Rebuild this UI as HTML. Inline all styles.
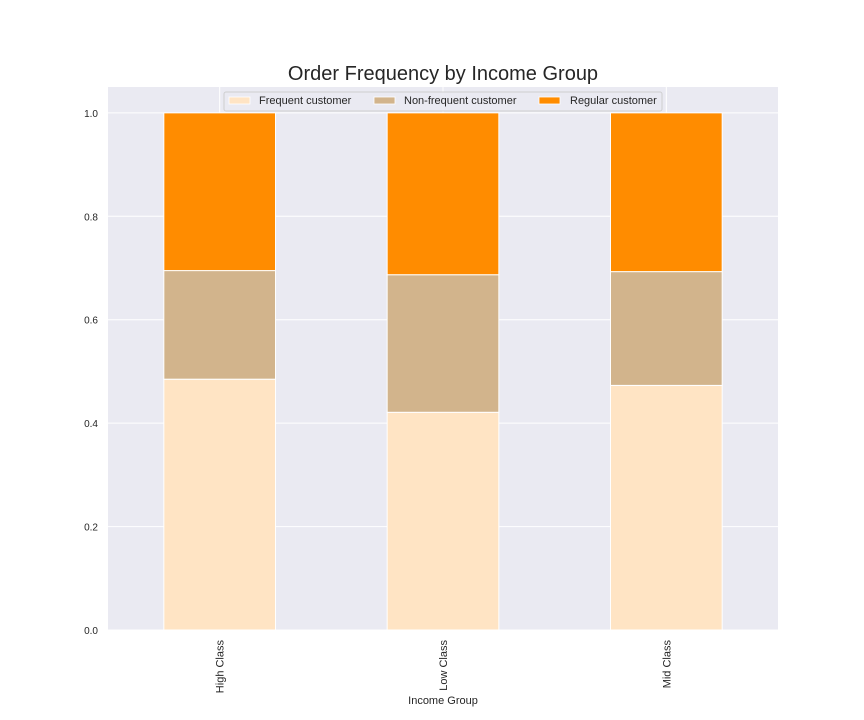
<!DOCTYPE html>
<html><head><meta charset="utf-8"><style>
body{margin:0;background:#fff;}
svg{display:block;font-family:"Liberation Sans",sans-serif;}
</style></head><body>
<svg id="chart" width="864" height="720" xmlns="http://www.w3.org/2000/svg">
<rect x="108" y="87" width="670" height="543" fill="#eaeaf2"/>
<g id="grid"></g>
<g id="bars"></g>
<g id="ticks"></g>
<text x="443" y="80" text-anchor="middle" font-size="20" fill="#262626">Order Frequency by Income Group</text>
<text x="443" y="704" text-anchor="middle" font-size="11" fill="#262626">Income Group</text>
<g>
<rect x="224" y="92" width="438" height="19" fill="#eaeaf2" stroke="#cccccc" stroke-width="1" rx="2" opacity="0.9"/>
<rect x="229" y="97" width="21" height="7" fill="#ffe4c4" stroke="#fff" stroke-width="0.8"/>
<text x="259" y="104" font-size="11" fill="#262626">Frequent customer</text>
<rect x="374" y="97" width="21" height="7" fill="#d2b48c" stroke="#fff" stroke-width="0.8"/>
<text x="404" y="104" font-size="11" fill="#262626">Non-frequent customer</text>
<rect x="539" y="97" width="21" height="7" fill="#ff8c00" stroke="#fff" stroke-width="0.8"/>
<text x="570" y="104" font-size="11" fill="#262626">Regular customer</text>
</g>
</svg>
<script>
const categories=["High Class","Low Class","Mid Class"];
const frequent=[0.485,0.421,0.473];
const nonFrequent=[0.210,0.266,0.220];
const regular=[0.305,0.313,0.307];
const yTicks=[0,0.2,0.4,0.6,0.8,1.0];
const yTickLabels=["0.0","0.2","0.4","0.6","0.8","1.0"];
const NS="http://www.w3.org/2000/svg";
const X0=108,W=670,Y0=630,YMAX=1.05,H=543;
const y=v=>Y0-v/YMAX*H;
const band=W/categories.length;
const xc=i=>X0+band*(i+0.5);
function mk(tag,attrs,parent){const e=document.createElementNS(NS,tag);for(const k in attrs)e.setAttribute(k,attrs[k]);parent.appendChild(e);return e;}
const grid=document.getElementById('grid'),bars=document.getElementById('bars'),ticks=document.getElementById('ticks');
yTicks.forEach((t,i)=>{
 const l=mk('line',{x1:X0,x2:X0+W,y1:y(t),y2:y(t),stroke:'#fff','stroke-width':1},grid);
 
 
 const tx=mk('text',{x:X0-10,y:y(t)+4,'text-anchor':'end','font-size':10,fill:'#262626'},ticks);
 tx.textContent=yTickLabels[i];
 
 
});
const series=[[frequent,'#ffe4c4','frequent'],[nonFrequent,'#d2b48c','nonfrequent'],[regular,'#ff8c00','regular']];
categories.forEach((c,i)=>{
 const g=mk('line',{x1:xc(i),x2:xc(i),y1:y(YMAX),y2:Y0,stroke:'#fff','stroke-width':1},grid);
 
 
 let base=0;const bw=band*0.5;
 series.forEach(([vals,col,nm])=>{
  const v=vals[i];
  const r=mk('rect',{x:xc(i)-bw/2,y:y(base+v),width:bw,height:y(base)-y(base+v),fill:col,stroke:'#fff','stroke-width':1},bars);
  
  
  base+=v;
 });
 const tx=mk('text',{x:0,y:0,'text-anchor':'end','font-size':11,fill:'#262626',transform:`translate(${xc(i)+4},${Y0+10}) rotate(-90)`},ticks);
 tx.textContent=c;
 
 
});
</script>
</body></html>
